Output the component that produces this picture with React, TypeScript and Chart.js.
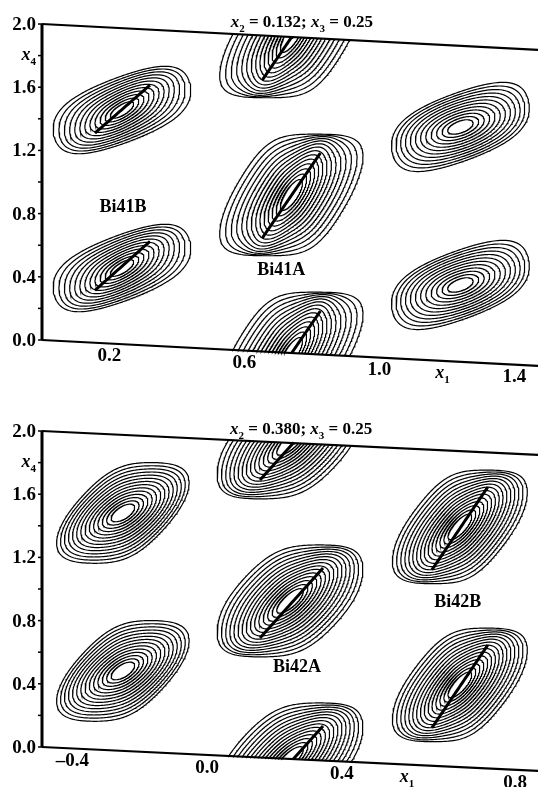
import React, { useEffect, useRef } from "react";
import { Chart, registerables } from "chart.js";

Chart.register(...registerables);

const SERIF = '"Liberation Serif", "Times New Roman", serif';

/* ================= Panel A : x2 = 0.132 ; x3 = 0.25 ================= */
const aX2 = "0.132";
const aX3 = "0.25";
const aX1Min = 0;
const aX1Max = 1.47;
const aX1Ticks = [0.2, 0.6, 1.0, 1.4];
const aX1TickLabels = ["0.2", "0.6", "1.0", "1.4"];
const aX1TickLabelAt = [0.2, 0.6, 1.0, 1.4];
const aX1NameAt = 1.187;
const aTitleAt = 0.77;
const aTilt = 0.111;
// density maxima (x1, x4) and which shape they use
const aPeakX1 = [0.237, 1.24, 0.739, 0.237, 1.24, 0.739, 0.739];
const aPeakX4 = [1.482, 1.486, 1.0, 0.482, 0.486, 2.0, 0.0];
const aPeakShape = [0, 1, 2, 0, 1, 2, 2];
// shape table (x4 units)
const aInnerAngle = [32, 20, 57];
const aInnerLong = [0.5, 0.5, 0.68];
const aInnerShort = [0.19, 0.22, 0.23];
const aOuterAngle = [25, 25, 55];
const aOuterBand = [0.21, 0.22, 0.33];
const aOuterHalfW = [0.44, 0.44, 0.475];
const aOuterHalfH = [0.305, 0.31, 0.385];
const aOuterPower = [4, 4, 5.5];
const aLevels = [12, 12, 14];
// bond traces
const aBondX1a = [0.157, 0.157, 0.653, 0.653, 0.653];
const aBondX4a = [1.327, 0.332, 0.718, 1.718, -0.282];
const aBondX1b = [0.32, 0.32, 0.825, 0.825, 0.825];
const aBondX4b = [1.649, 0.66, 1.275, 2.275, 0.275];
// site names
const aSiteNames = ["Bi41B", "Bi41A"];
const aSiteX1 = [0.24, 0.709];
const aSiteX4 = [0.868, 0.522];

/* ================= Panel B : x2 = 0.380 ; x3 = 0.25 ================= */
const bX2 = "0.380";
const bX3 = "0.25";
const bX1Min = -0.49;
const bX1Max = 0.982;
const bX1Ticks = [-0.4, 0.0, 0.4, 0.8];
const bX1TickLabels = ["\u20130.4", "0.0", "0.4", "0.8"];
const bX1TickLabelAt = [-0.4, 0.0, 0.4, 0.914];
const bX1NameAt = 0.593;
const bTitleAt = 0.279;
const bTilt = 0.1024;
const bPeakX1 = [-0.25, 0.75, 0.246, -0.25, 0.75, 0.246, 0.246];
const bPeakX4 = [1.506, 1.52, 1.0, 0.506, 0.52, 2.0, 0.0];
const bPeakShape = [0, 2, 1, 0, 2, 1, 1];
const bInnerAngle = [32, 42, 48];
const bInnerLong = [0.5, 0.64, 0.62];
const bInnerShort = [0.23, 0.23, 0.22];
const bOuterAngle = [45, 45, 50];
const bOuterBand = [0.26, 0.31, 0.29];
const bOuterHalfW = [0.435, 0.47, 0.44];
const bOuterHalfH = [0.32, 0.355, 0.36];
const bOuterPower = [5, 5.5, 5.5];
const bLevels = [14, 15, 15];
const bBondX1a = [0.157, 0.157, 0.157, 0.667, 0.667];
const bBondX4a = [0.756, 1.756, -0.244, 1.239, 0.239];
const bBondX1b = [0.344, 0.344, 0.344, 0.833, 0.833];
const bBondX4b = [1.218, 2.218, 0.218, 1.781, 0.781];
const bSiteNames = ["Bi42A", "Bi42B"];
const bSiteX1 = [0.267, 0.744];
const bSiteX4 = [0.584, 1.044];

/* common axis */
const x4Ticks = [0, 0.4, 0.8, 1.2, 1.6, 2.0];
const x4MinorTicks = [0.2, 0.6, 1.0, 1.4, 1.8];
const X4_MAX = 2;
const INNER_LEVEL = 0.17;

/* layout */
const CANVAS_W = 538;
const AXIS_LEFT = 42;
const PX_PER_X4 = 158;

type Seg = { t: string; it?: boolean; sub?: boolean };

function segFont(s: Seg, size: number) {
  if (s.sub) return `bold ${Math.round(size * 0.62)}px ${SERIF}`;
  if (s.it) return `italic bold ${size}px ${SERIF}`;
  return `bold ${size}px ${SERIF}`;
}

function drawRich(ctx: CanvasRenderingContext2D, segs: Seg[], x: number, y: number, size: number, align: "left" | "center" | "right") {
  ctx.save();
  ctx.textBaseline = "alphabetic";
  ctx.textAlign = "left";
  let w = 0;
  for (const s of segs) {
    ctx.font = segFont(s, size);
    w += ctx.measureText(s.t).width;
  }
  let cx = align === "center" ? x - w / 2 : align === "right" ? x - w : x;
  for (const s of segs) {
    ctx.font = segFont(s, size);
    ctx.fillText(s.t, cx, s.sub ? y + size * 0.28 : y);
    cx += ctx.measureText(s.t).width;
  }
  ctx.restore();
}

interface PanelCfg {
  height: number;
  padTop: number;
  yMin: number;
  x1Min: number;
  x1Max: number;
  tilt: number;
  x2: string;
  x3: string;
  titleAt: number;
  x1Ticks: number[];
  x1TickLabels: string[];
  x1TickLabelAt: number[];
  x1NameAt: number;
  peakX1: number[];
  peakX4: number[];
  peakShape: number[];
  innerAngle: number[];
  innerLong: number[];
  innerShort: number[];
  outerAngle: number[];
  outerBand: number[];
  outerHalfW: number[];
  outerHalfH: number[];
  outerPower: number[];
  levels: number[];
  bondX1a: number[];
  bondX4a: number[];
  bondX1b: number[];
  bondX4b: number[];
  siteNames: string[];
  siteX1: number[];
  siteX4: number[];
}

const panelA: PanelCfg = {
  height: 393, padTop: 24, yMin: -0.17, x1Min: aX1Min, x1Max: aX1Max, tilt: aTilt,
  x2: aX2, x3: aX3, titleAt: aTitleAt, x1Ticks: aX1Ticks, x1TickLabels: aX1TickLabels,
  x1TickLabelAt: aX1TickLabelAt, x1NameAt: aX1NameAt,
  peakX1: aPeakX1, peakX4: aPeakX4, peakShape: aPeakShape,
  innerAngle: aInnerAngle, innerLong: aInnerLong, innerShort: aInnerShort,
  outerAngle: aOuterAngle, outerBand: aOuterBand, outerHalfW: aOuterHalfW, outerHalfH: aOuterHalfH,
  outerPower: aOuterPower, levels: aLevels,
  bondX1a: aBondX1a, bondX4a: aBondX4a, bondX1b: aBondX1b, bondX4b: aBondX4b,
  siteNames: aSiteNames, siteX1: aSiteX1, siteX4: aSiteX4,
};

const panelB: PanelCfg = {
  height: 394, padTop: 38, yMin: -0.16, x1Min: bX1Min, x1Max: bX1Max, tilt: bTilt,
  x2: bX2, x3: bX3, titleAt: bTitleAt, x1Ticks: bX1Ticks, x1TickLabels: bX1TickLabels,
  x1TickLabelAt: bX1TickLabelAt, x1NameAt: bX1NameAt,
  peakX1: bPeakX1, peakX4: bPeakX4, peakShape: bPeakShape,
  innerAngle: bInnerAngle, innerLong: bInnerLong, innerShort: bInnerShort,
  outerAngle: bOuterAngle, outerBand: bOuterBand, outerHalfW: bOuterHalfW, outerHalfH: bOuterHalfH,
  outerPower: bOuterPower, levels: bLevels,
  bondX1a: bBondX1a, bondX4a: bBondX4a, bondX1b: bBondX1b, bondX4b: bBondX4b,
  siteNames: bSiteNames, siteX1: bSiteX1, siteX4: bSiteX4,
};

type P2 = [number, number] | null;

function clipX4(pts: [number, number][], lo: number, hi: number): P2[] {
  const out: P2[] = [];
  for (let i = 0; i < pts.length; i++) {
    const [ax, ay] = pts[i];
    const inA = ay >= lo && ay <= hi;
    if (i > 0) {
      const [px, py] = pts[i - 1];
      const inP = py >= lo && py <= hi;
      if (inP && !inA) {
        const b = ay > hi ? hi : lo;
        const t = (b - py) / (ay - py);
        out.push([px + t * (ax - px), b]);
        out.push(null);
      } else if (!inP && inA) {
        const b = py > hi ? hi : lo;
        const t = (b - py) / (ay - py);
        out.push([px + t * (ax - px), b]);
      }
    }
    if (inA) out.push([ax, ay]);
  }
  return out;
}

const RING_POINTS = 260;

function ring(cfg: PanelCfg, peak: number, s: number, aspect: number): [number, number][] {
  const i = cfg.peakShape[peak];
  const cx1 = cfg.peakX1[peak];
  const cx4 = cfg.peakX4[peak];
  const te = (cfg.innerAngle[i] * Math.PI) / 180;
  const th = (cfg.outerAngle[i] * Math.PI) / 180;
  const aE = cfg.innerLong[i];
  const bE = cfg.innerShort[i];
  const bH = cfg.outerBand[i];
  const hx = cfg.outerHalfW[i];
  const hy = cfg.outerHalfH[i];
  const p = cfg.outerPower[i];
  const w = Math.pow(s, 1.6);
  const pts: [number, number][] = [];
  for (let j = 0; j <= RING_POINTS; j++) {
    const phi = (2 * Math.PI * j) / RING_POINTS;
    const c = Math.cos(phi);
    const sn = Math.sin(phi);
    const ce = Math.cos(phi - te);
    const se = Math.sin(phi - te);
    const rE = 1 / Math.sqrt((ce / aE) ** 2 + (se / bE) ** 2);
    const f =
      Math.pow(Math.abs(Math.sin(phi - th)) / bH, p) +
      Math.pow(Math.abs(c) / hx, p) +
      Math.pow(Math.abs(sn) / hy, p);
    const rH = Math.pow(f, -1 / p);
    const r = s * ((1 - w) * rE + w * rH);
    const dx1 = (r * c) / aspect;
    pts.push([cx1 + dx1, cx4 + r * sn + cfg.tilt * dx1]);
  }
  return pts;
}

function buildChart(canvas: HTMLCanvasElement, cfg: PanelCfg) {
  const padBottom = cfg.height - cfg.padTop - (X4_MAX - cfg.yMin) * PX_PER_X4;
  const pxPerX1 = (CANVAS_W - AXIS_LEFT) / (cfg.x1Max - cfg.x1Min);
  const aspect = pxPerX1 / PX_PER_X4;
  const toY = (x1: number, x4: number) => x4 - cfg.tilt * (x1 - cfg.x1Min);
  const toData = (pts: P2[]) =>
    pts.map((q) => (q ? { x: q[0], y: toY(q[0], q[1]) } : { x: NaN, y: null as any }));

  const datasets: any[] = [];
  const lineDs = (data: any[], width: number) => ({
    data,
    showLine: true,
    pointRadius: 0,
    borderColor: "#000",
    borderWidth: width,
    tension: 0,
    spanGaps: false,
    fill: false,
    clip: false,
  });

  // contour rings (evenly spaced levels from the outermost ring inwards)
  for (let k = 0; k < cfg.peakX1.length; k++) {
    const n = cfg.levels[cfg.peakShape[k]];
    for (let lev = 0; lev < n; lev++) {
      const s = 1 - ((1 - INNER_LEVEL) * lev) / (n - 1);
      const pts = clipX4(ring(cfg, k, s, aspect), 0, X4_MAX);
      datasets.push(lineDs(toData(pts), 1.2));
    }
  }
  // bond traces
  for (let k = 0; k < cfg.bondX1a.length; k++) {
    const seg: [number, number][] = [];
    const N = 40;
    for (let j = 0; j <= N; j++) {
      const t = j / N;
      seg.push([
        cfg.bondX1a[k] + t * (cfg.bondX1b[k] - cfg.bondX1a[k]),
        cfg.bondX4a[k] + t * (cfg.bondX4b[k] - cfg.bondX4a[k]),
      ]);
    }
    datasets.push(lineDs(toData(clipX4(seg, 0, X4_MAX)), 3));
  }
  // frame: left axis, x1 axis (x4 = 0), upper edge (x4 = 2)
  datasets.push(lineDs(toData([[cfg.x1Min, 0], [cfg.x1Min, X4_MAX]]), 3));
  datasets.push(lineDs(toData([[cfg.x1Min, 0], [cfg.x1Max, 0]]), 2.2));
  datasets.push(lineDs(toData([[cfg.x1Min, X4_MAX], [cfg.x1Max, X4_MAX]]), 2.2));

  const textPlugin = {
    id: "obliqueText",
    afterDatasetsDraw(chart: any) {
      const ctx: CanvasRenderingContext2D = chart.ctx;
      const xs = chart.scales.x;
      const ys = chart.scales.y;
      const P = (x1: number, x4: number) => [xs.getPixelForValue(x1), ys.getPixelForValue(toY(x1, x4))];
      const left = xs.getPixelForValue(cfg.x1Min);
      ctx.save();
      ctx.fillStyle = "#000";
      ctx.strokeStyle = "#000";
      ctx.lineWidth = 1.5;
      // x4 ticks
      for (const v of [...x4Ticks, ...x4MinorTicks]) {
        const [, py] = P(cfg.x1Min, v);
        ctx.beginPath();
        ctx.moveTo(left - 4, py);
        ctx.lineTo(left, py);
        ctx.stroke();
      }
      ctx.font = `bold 19px ${SERIF}`;
      ctx.textAlign = "right";
      ctx.textBaseline = "middle";
      for (const v of x4Ticks) {
        const [, py] = P(cfg.x1Min, v);
        ctx.fillText(v.toFixed(1), left - 6, py + 1);
      }
      const [, p18] = P(cfg.x1Min, 1.8);
      drawRich(ctx, [{ t: "x", it: true }, { t: "4", sub: true }], left - 6, p18 + 4, 18, "right");
      // x1 tick labels along the oblique axis
      ctx.textAlign = "center";
      ctx.textBaseline = "middle";
      ctx.font = `bold 19px ${SERIF}`;
      cfg.x1Ticks.forEach((_v, i) => {
        const at = cfg.x1TickLabelAt[i];
        const [px, py] = P(at, 0);
        ctx.fillText(cfg.x1TickLabels[i], px, py + 13);
      });
      {
        const [px, py] = P(cfg.x1NameAt, 0);
        drawRich(ctx, [{ t: "x", it: true }, { t: "1", sub: true }], px, py + 17, 18, "center");
      }
      // title
      {
        const [px] = P(cfg.titleAt, X4_MAX);
        const [, py] = P(cfg.x1Min, X4_MAX);
        drawRich(
          ctx,
          [
            { t: "x", it: true },
            { t: "2", sub: true },
            { t: ` = ${cfg.x2}; ` },
            { t: "x", it: true },
            { t: "3", sub: true },
            { t: ` = ${cfg.x3}` },
          ],
          px,
          py + 3,
          17,
          "center"
        );
      }
      // site names
      ctx.font = `bold 18px ${SERIF}`;
      ctx.textAlign = "center";
      ctx.textBaseline = "middle";
      cfg.siteNames.forEach((name, i) => {
        const [px, py] = P(cfg.siteX1[i], cfg.siteX4[i]);
        ctx.fillText(name, px, py);
      });
      ctx.restore();
    },
  };

  return new Chart(canvas, {
    type: "scatter",
    data: { datasets },
    options: {
      responsive: false,
      maintainAspectRatio: false,
      animation: false,
      events: [],
      layout: { padding: { left: AXIS_LEFT, right: 0, top: cfg.padTop, bottom: padBottom } },
      scales: {
        x: { type: "linear", display: false, min: cfg.x1Min, max: cfg.x1Max },
        y: { type: "linear", display: false, min: cfg.yMin, max: X4_MAX },
      },
      plugins: { legend: { display: false }, tooltip: { enabled: false }, title: { display: false } },
    },
    plugins: [textPlugin],
  } as any);
}

function Panel({ cfg }: { cfg: PanelCfg }) {
  const ref = useRef<HTMLCanvasElement>(null);
  useEffect(() => {
    if (!ref.current) return;
    const chart = buildChart(ref.current, cfg);
    return () => chart.destroy();
  }, [cfg]);
  return <canvas ref={ref} width={CANVAS_W} height={cfg.height} style={{ display: "block" }} />;
}

export default function App() {
  return (
    <div style={{ position: "absolute", left: 0, top: 0, width: CANVAS_W, height: 787, background: "#fff" }}>
      <Panel cfg={panelA} />
      <Panel cfg={panelB} />
    </div>
  );
}
